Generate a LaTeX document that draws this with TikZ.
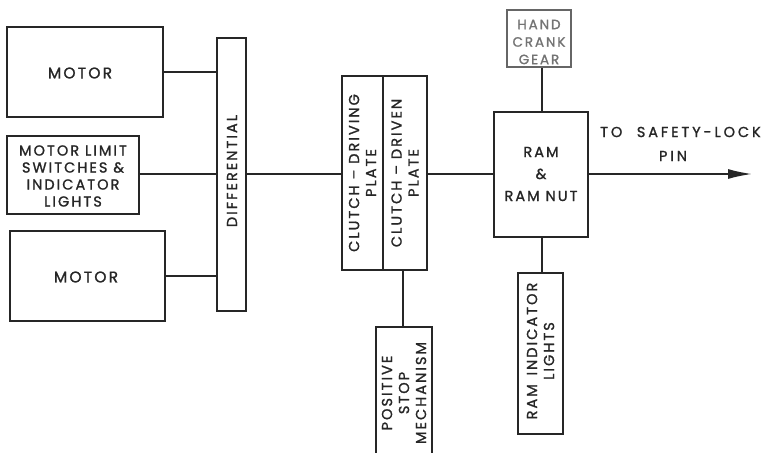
\documentclass[tikz,border=0pt]{standalone}
\usepackage{fontspec}
\setmainfont{Poppins}[LetterSpace=14, FakeBold=1.2]
\newfontfamily\widefont{Poppins}[LetterSpace=20, FakeBold=1.2]
\usetikzlibrary{arrows.meta}
\tikzset{
  box/.style={draw=black!85, line width=1.1pt, inner sep=0pt, fill=none},
  lbl/.style={font=\fontsize{14.5}{17}\selectfont, align=center, text=black!85, inner sep=0pt},
  vlbl/.style={lbl, rotate=90},
  conn/.style={draw=black!85, line width=1.7pt},
  thin/.style={draw=black!85, line width=1.1pt},
}
\begin{document}
\begin{tikzpicture}[x=1pt,y=-1pt]
\clip (0,0) rectangle (767,452);
\fill[white] (0,0) rectangle (767,452);
% boxes
\node[box, minimum width=156pt, minimum height=90pt] (motor1) at (85,72) {};
\node[lbl, font=\fontsize{15.5}{17}\selectfont] (motor1t) at (80,73) {MOTOR};
\node[box, minimum width=132pt, minimum height=78pt] (mls) at (73,175) {};
\node[lbl] (mlst) at (73,176) {MOTOR LIMIT\\SWITCHES \&\\INDICATOR\\LIGHTS};
\node[box, minimum width=155pt, minimum height=90pt] (motor2) at (87.5,276) {};
\node[lbl, font=\fontsize{15.5}{17}\selectfont] (motor2t) at (86,277) {MOTOR};
\node[box, minimum width=29pt, minimum height=273pt] (diff) at (231.5,174.5) {};
\node[vlbl] (difft) at (232,171) {DIFFERENTIAL};
\node[box, minimum width=41pt, minimum height=194pt] (cl1) at (362.5,173) {};
\node[vlbl] (cl1t) at (cl1.center) {CLUTCH -- DRIVING\\PLATE};
\node[box, minimum width=44pt, minimum height=194pt] (cl2) at (405,173) {};
\node[vlbl] (cl2t) at (cl2.center) {CLUTCH -- DRIVEN\\PLATE};
\node[box, minimum width=56pt, minimum height=143pt] (stop) at (404,398.5) {};
\node[vlbl] (stopt) at (404,393) {POSITIVE\\STOP\\MECHANISM};
\node[box, minimum width=94pt, minimum height=125pt] (ram) at (541,174.5) {};
\node[lbl, font=\fontsize{14.5}{22}\selectfont] (ramt) at (541,174) {RAM\\\&\\RAM NUT};
\node[box, draw=black!60, minimum width=64pt, minimum height=57pt] (crank) at (539,38.5) {};
\node[lbl, text=black!55, font=\fontsize{13.5}{17.5}\selectfont] (crankt) at (539,42) {HAND\\CRANK\\GEAR};
\node[box, minimum width=45pt, minimum height=161pt] (ramind) at (540.5,353.5) {};
\node[vlbl] (ramindt) at (540.5,351) {RAM\hspace{0.6em}INDICATOR\\LIGHTS};
\node[lbl, anchor=west, font=\widefont\fontsize{14.5}{17}\selectfont] (dest1) at (600,132) {TO\hspace{1em}SAFETY-LOCK};
\node[lbl, font=\widefont\fontsize{14.5}{17}\selectfont] (dest2) at (673,156) {PIN};
\coordinate (tip) at (752,174);
% connectors
\draw[conn] (motor1.east) -- (motor1.east -| diff.west);
\draw[conn] (mls.east |- 0,174) -- (diff.west |- 0,174);
\draw[conn] (motor2.east) -- (motor2.east -| diff.west);
\draw[conn] (diff.east |- 0,174) -- (cl1.west |- 0,174);
\draw[conn] (cl2.east |- 0,174) -- (ram.west |- 0,174);
\draw[thin] (ram.north -| 542,0) -- (crank.south -| 542,0);
\draw[thin] (ram.south -| 542,0) -- (ramind.north -| 542,0);
\draw[thin] (cl2.south -| 403,0) -- (stop.north -| 403,0);
\draw[conn, -{Latex[length=24pt,width=10pt]}] (ram.east |- tip) -- (tip);
\end{tikzpicture}
\end{document}
